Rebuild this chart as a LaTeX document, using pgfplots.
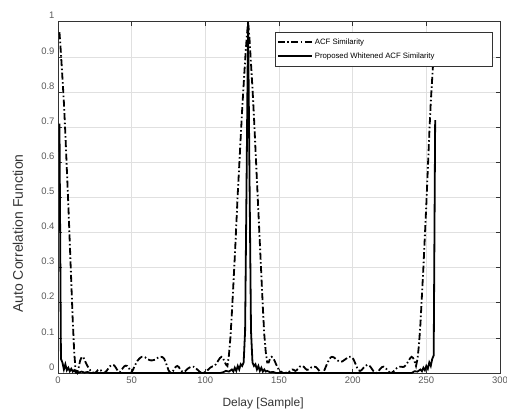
\documentclass[border=0pt]{standalone}
\usepackage{fontspec}
\setmainfont{Liberation Sans}
\usepackage{pgfplots}
\usepackage{pgfplotstable}
\pgfplotsset{compat=1.18}

% ACF similarity (dash-dot)
\pgfplotstableread{
x y
1 0.97
2 0.91
3 0.84
4 0.77
5 0.68
6 0.58
7 0.48
8 0.37
9 0.26
10 0.15
11 0.06
12 0.005
13 0.0
14 0.015
15 0.035
16 0.045
17 0.046
18 0.038
19 0.028
20 0.02
21 0.013
22 0.007
23 0.003
24 0.001
25 0.0
26 0.003
27 0.008
28 0.01
29 0.008
30 0.003
31 0.0
32 0.002
33 0.006
34 0.012
35 0.018
36 0.022
37 0.023
38 0.022
39 0.017
40 0.01
41 0.004
42 0.003
43 0.008
44 0.014
45 0.019
46 0.021
47 0.02
48 0.015
49 0.008
50 0.002
51 0.01
52 0.02
53 0.028
54 0.035
55 0.04
56 0.044
57 0.046
58 0.046
59 0.045
60 0.042
61 0.039
62 0.037
63 0.036
64 0.036
65 0.037
66 0.038
67 0.041
68 0.044
69 0.046
70 0.046
71 0.045
72 0.041
73 0.032
74 0.02
75 0.008
76 0.002
77 0.0
78 0.005
79 0.013
80 0.018
81 0.02
82 0.017
83 0.01
84 0.005
85 0.003
86 0.004
87 0.008
88 0.012
89 0.015
90 0.017
91 0.018
92 0.018
93 0.016
94 0.012
95 0.008
96 0.004
97 0.001
98 0.0
99 0.001
100 0.003
101 0.006
102 0.01
103 0.014
104 0.017
105 0.019
106 0.02
107 0.024
108 0.03
109 0.037
110 0.043
111 0.046
112 0.042
113 0.033
114 0.024
115 0.02
116 0.05
117 0.10
118 0.17
119 0.25
120 0.33
121 0.42
122 0.51
123 0.59
124 0.67
125 0.75
126 0.82
127 0.89
128 0.95
129 1.0
130 0.95
131 0.88
132 0.81
133 0.73
134 0.64
135 0.55
136 0.46
137 0.37
138 0.28
139 0.19
140 0.11
141 0.06
142 0.03
143 0.03
144 0.042
145 0.046
146 0.043
147 0.035
148 0.025
149 0.016
150 0.009
151 0.005
152 0.002
153 0.0
154 0.0
155 0.001
156 0.0
157 0.004
158 0.008
159 0.01
160 0.009
161 0.006
162 0.008
163 0.013
164 0.018
165 0.02
166 0.02
167 0.017
168 0.012
169 0.009
170 0.01
171 0.013
172 0.016
173 0.018
174 0.018
175 0.017
176 0.013
177 0.008
178 0.003
179 0.0
180 0.002
181 0.01
182 0.02
183 0.03
184 0.038
185 0.044
186 0.046
187 0.045
188 0.042
189 0.038
190 0.035
191 0.033
192 0.032
193 0.033
194 0.036
195 0.039
196 0.042
197 0.045
198 0.046
199 0.046
200 0.043
201 0.035
202 0.025
203 0.015
204 0.008
205 0.006
206 0.008
207 0.013
208 0.018
209 0.021
210 0.023
211 0.022
212 0.018
213 0.012
214 0.006
215 0.002
216 0.0
217 0.003
218 0.008
219 0.013
220 0.017
221 0.018
222 0.016
223 0.011
224 0.006
225 0.002
226 0.0
227 0.002
228 0.006
229 0.01
230 0.014
231 0.017
232 0.018
233 0.018
234 0.017
235 0.018
236 0.022
237 0.028
238 0.035
239 0.042
240 0.046
241 0.043
242 0.033
243 0.02
244 0.04
245 0.08
246 0.14
247 0.22
248 0.30
249 0.39
250 0.48
251 0.58
252 0.68
253 0.77
254 0.84
255 0.91
256 0.97
}\acfdata

% proposed whitened ACF similarity (solid)
\pgfplotstableread{
x y
1 0.71
2 0.04
3 0.03
4 0.01
5 0.025
6 0.008
7 0.015
8 0.005
9 0.012
10 0.004
11 0.008
12 0.002
13 0.005
14 0.001
16 0.004
18 0.001
20 0.003
22 0.0
110 0.0
112 0.002
114 0.006
116 0.004
118 0.01
119 0.004
120 0.015
121 0.006
122 0.02
123 0.01
124 0.025
125 0.02
126 0.03
127 0.12
128 0.55
129 1.0
130 0.55
131 0.12
132 0.03
133 0.02
134 0.025
135 0.01
136 0.02
137 0.006
138 0.015
139 0.004
140 0.01
141 0.004
142 0.006
144 0.002
146 0.003
148 0.0
240 0.0
242 0.005
244 0.004
246 0.01
247 0.005
248 0.015
249 0.008
250 0.02
251 0.012
252 0.03
253 0.02
254 0.04
255 0.05
256 0.72
}\whitedata

\begin{document}
\begin{tikzpicture}
\begin{axis}[
    at={(0,0)}, anchor=south west,
    scale only axis,
    width=442bp, height=351.3bp,
    xmin=0, xmax=300, ymin=0, ymax=1,
    xtick={0,50,...,300},
    ytick={0,0.1,...,1},
    yticklabels={0,0.1,0.2,0.3,0.4,0.5,0.6,0.7,0.8,0.9,1},
    /pgf/number format/assume math mode=true,
    tick label style={font=\fontsize{9.5}{11}\selectfont, text=black!65},
    yticklabel style={yshift=6bp},
    xlabel={Delay [Sample]},
    ylabel={Auto Correlation Function},
    xlabel style={font=\fontsize{12}{14}\selectfont, text=black!80,
        at={(axis description cs:0.464,0)}, anchor=center, yshift=-30bp},
    ylabel style={font=\fontsize{14}{16}\selectfont, text=black!80,
        at={(axis description cs:-0.0905,0.397)}, anchor=center},
    grid=major,
    grid style={line width=0.5bp, draw=black!12},
    axis line style={line width=0.7bp, draw=black!80},
    tick style={line width=0.6bp, draw=black!80},
    major tick length=4bp,
    clip=false,
    legend cell align=left,
    legend style={at={(axis description cs:1,1)}, anchor=north east,
        xshift=-7.7bp, yshift=-10.6bp,
        font=\fontsize{7.8}{9}\selectfont,
        draw=black!80, line width=0.6bp,
        inner xsep=1.5bp, inner ysep=4bp, row sep=3bp},
    legend image code/.code={\draw[#1] (0bp,0bp) -- (34bp,0bp);},
]
\addplot[black, line width=1.8bp,
    dash pattern=on 7bp off 2.5bp on 1.5bp off 2.5bp] table {\acfdata};
\addlegendentry{ACF Similarity}
\addplot[black, line width=1.8bp] table {\whitedata};
\addlegendentry{Proposed Whitened ACF Similarity\rule{54bp}{0pt}}
\end{axis}
\pgfresetboundingbox
\path[use as bounding box] (-58bp,-41bp) rectangle (449bp,373bp);
\end{tikzpicture}
\end{document}
